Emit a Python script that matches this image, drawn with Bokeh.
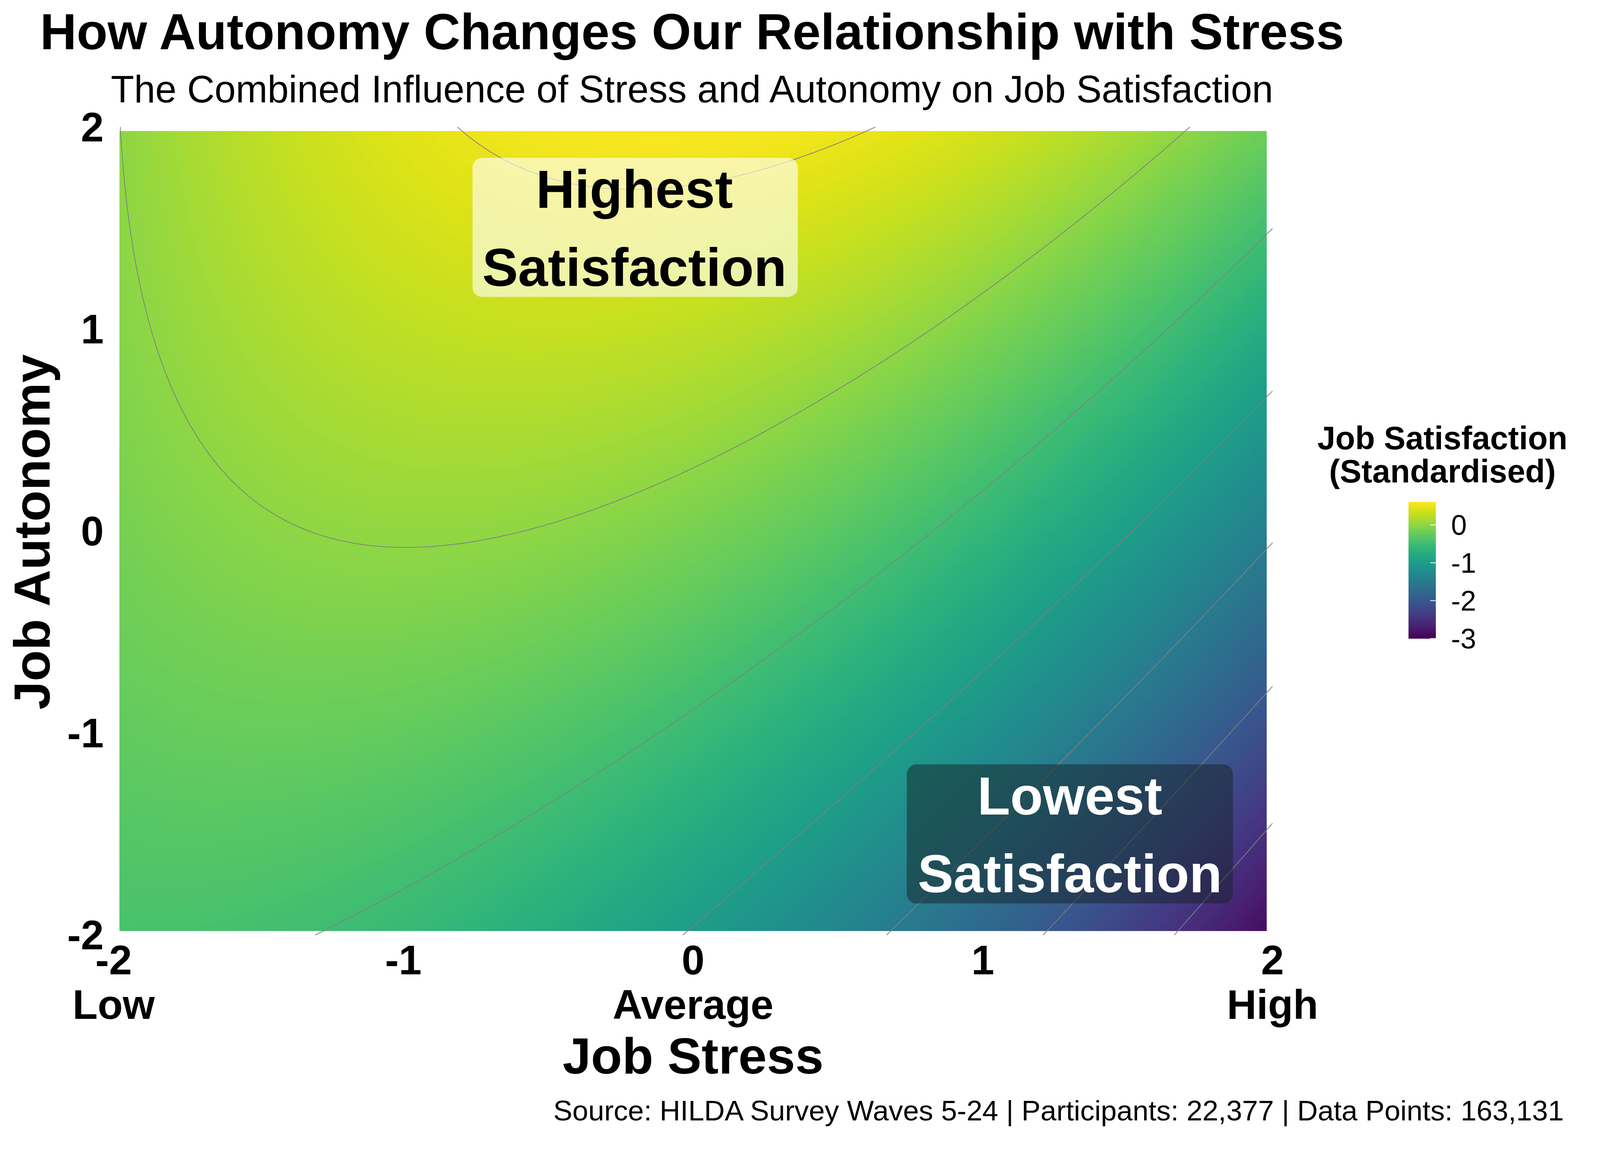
import numpy as np
from bokeh.plotting import figure
from bokeh.models import LinearColorMapper, ColorBar, FixedTicker, Label, BoxAnnotation, Range1d
from bokeh.palettes import Viridis256
from bokeh.embed import file_html
from bokeh.resources import INLINE

FONT = "Liberation Sans"

# ---- response surface: satisfaction = f(stress x, autonomy y)
# terms: 1, x, y, x^2, xy, y^2, x^3, x^2 y, x y^2, y^3
surface_terms = ["1", "x", "y", "x2", "xy", "y2", "x3", "x2y", "xy2", "y3"]
surface_coef = [-0.1244, -0.3102, 0.4058, -0.1694, 0.1439, -0.0229, -0.0047, -0.0028, -0.0018, -0.0008]

stress_range = [-2.0, 2.0]
autonomy_range = [-2.0, 2.0]
contour_levels = [-2.5, -2.0, -1.5, -1.0, -0.5, 0.0, 0.5]
x_ticks = [-2, -1, 0, 1, 2]
x_tick_labels = ["-2", "-1", "0", "1", "2"]
y_ticks = [-2, -1, 0, 1, 2]
y_tick_labels = ["-2", "-1", "0", "1", "2"]
x_words = ["Low", "Average", "High"]
x_word_pos = [-2, 0, 2]
cbar_ticks = [-3, -2, -1, 0]
cbar_labels = ["-3", "-2", "-1", "0"]
cbar_low, cbar_high = -3.0, 0.61

coef = np.array(surface_coef)

def surface(x, y):
    t = np.stack([np.ones_like(x), x, y, x * x, x * y, y * y, x ** 3, x * x * y, x * y * y, y ** 3], axis=-1)
    return t @ coef

N = 400
edge = 1.98
cc = -edge + (np.arange(N) + 0.5) * (2 * edge / N)
IX, IY = np.meshgrid(cc, cc)
Zimg = surface(IX, IY)

g = np.linspace(stress_range[0], stress_range[1], 241)
GX, GY = np.meshgrid(g, g)
Zc = surface(GX, GY)

# layout (page is rendered at 4096 css px wide)
S = 4096 / 4200
W, H = 4080, 2910
XPU, YPU = 760.5 * S, 530.25 * S
x0 = -2 - (306 * S - 8) / XPU
x1 = x0 + W / XPU
y1 = 2 + (341 * S - 8) / YPU
y0 = y1 - H / YPU

p = figure(width=W, height=H, x_range=Range1d(x0, x1), y_range=Range1d(y0, y1),
           x_axis_type=None, y_axis_type=None, output_backend="svg", toolbar_location=None,
           min_border=0)
p.title.visible = False
p.outline_line_color = None
p.grid.visible = False
p.background_fill_color = "white"
p.border_fill_color = "white"

mapper = LinearColorMapper(palette=Viridis256, low=cbar_low, high=cbar_high)
p.image(image=[Zimg], x=-edge, y=-edge, dw=2 * edge, dh=2 * edge, color_mapper=mapper)
p.contour(g, g, Zc, levels=contour_levels, line_color="#808080", line_width=2 * S)

MID = 0.3465  # baseline -> middle of text box, in em

def fs(size):
    return f"{size * S:.1f}px"

def lab(x, base_y, t, size, bold=True, align="center", color="black"):
    p.add_layout(Label(x=x, y=base_y + MID * size / 530.25, text=t, text_align=align, text_baseline="middle",
                       text_font=FONT, text_font_size=fs(size), text_color=color,
                       text_font_style="bold" if bold else "normal"))

for t, s in zip(x_ticks, x_tick_labels):
    lab(t, -2.1943, s, 108)
for w_, xp in zip(x_words, x_word_pos):
    lab(xp, -2.415, w_, 108)
for t, s in zip(y_ticks, y_tick_labels):
    p.add_layout(Label(x=-2.0342, y=t, text=s, text_align="right", text_baseline="middle",
                       text_font=FONT, text_font_size=fs(108), text_font_style="bold", text_color="black"))

lab(0, 2.3847, "How Autonomy Changes Our Relationship with Stress", 133)
lab(0, 2.1207, "The Combined Influence of Stress and Autonomy on Job Satisfaction", 100, bold=False)
lab(0, -2.6865, "Job Stress", 134)
p.add_layout(Label(x=-2 - (306 - 138 + MID * 134) / 760.5, y=0, text="Job Autonomy", text_align="center",
                   text_baseline="middle", angle=np.pi / 2, text_font=FONT, text_font_size=fs(134),
                   text_font_style="bold", text_color="black"))
lab(3.011, -2.9165, "Source: HILDA Survey Waves 5-24 | Participants: 22,377 | Data Points: 163,131", 75,
    bold=False, align="right")
lab(2.5865, 0.4051, "Job Satisfaction", 85)
lab(2.5865, 0.2395, "(Standardised)", 85)

RAD = int(round(26 * S))
p.add_layout(BoxAnnotation(left=-0.7613, right=0.3616, bottom=1.1589, top=1.8472, fill_color="white",
                           fill_alpha=0.62, line_color=None, border_radius=RAD))
p.add_layout(BoxAnnotation(left=0.7377, right=1.8633, bottom=-1.8434, top=-1.1551, fill_color="#162226",
                           fill_alpha=0.5, line_color=None, border_radius=RAD))
lab(-0.2025, 1.6002, "Highest", 141)
lab(-0.2025, 1.2136, "Satisfaction", 141)
lab(1.3005, -1.404, "Lowest", 141, color="white")
lab(1.3005, -1.7887, "Satisfaction", 141, color="white")

cb = ColorBar(color_mapper=mapper, ticker=FixedTicker(ticks=cbar_ticks), width=int(round(72 * S)),
              height=int(round(359 * S)), location=(3705 * S - 8, H - (1684 * S - 8)), padding=0,
              major_tick_in=int(round(14 * S)), major_tick_out=0,
              major_tick_line_color="white", major_tick_line_width=2, label_standoff=int(round(40 * S)),
              major_label_overrides=dict(zip(cbar_ticks, cbar_labels)),
              major_label_text_font=FONT, major_label_text_font_size=fs(74), major_label_text_color="black",
              background_fill_alpha=0, bar_line_color=None, border_line_color=None)
p.add_layout(cb)

open("out.html", "w").write(file_html(p, INLINE))
